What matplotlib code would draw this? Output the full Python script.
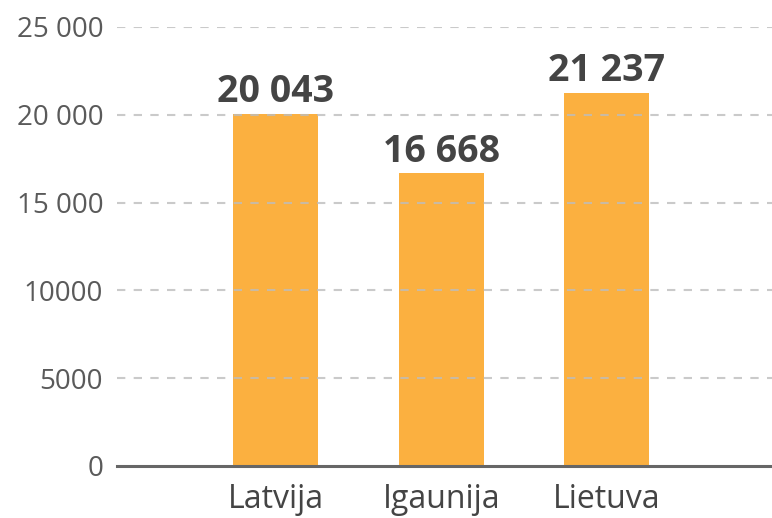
import matplotlib
matplotlib.use("Agg")
import matplotlib.pyplot as plt

categories = ["Latvija", "Igaunija", "Lietuva"]
values = [20043, 16668, 21237]
value_labels = ["20 043", "16 668", "21 237"]
yticks = [0, 5000, 10000, 15000, 20000, 25000]
ytick_labels = ["0", "5000", "10000", "15 000", "20 000", "25 000"]

plt.rcParams['font.family'] = ['Open Sans', 'DejaVu Sans']

fig = plt.figure(figsize=(7.72, 5.18), dpi=100)
ax = fig.add_axes([0.1516, 0.1004, 0.8484, 0.8475])

x = list(range(len(categories)))
ax.bar(x, values, width=0.515, color="#FBB040", zorder=2)
ax.set_xlim(-0.96, 3.0)
ax.set_ylim(0, 25000)

for v in yticks[1:]:
    ax.axhline(v, color="#bdbdbd", linewidth=1.5, linestyle=(0, (4, 4)), alpha=0.8, zorder=3)

for xi, v, lab in zip(x, values, value_labels):
    ax.annotate(lab, (xi, v), xytext=(0, 2), textcoords="offset points",
                ha="center", va="bottom", fontsize=27, fontweight="bold", color="#444444")

ax.set_yticks(yticks)
ax.set_yticklabels(ytick_labels, fontsize=20, color="#5a5a5a")
ax.set_xticks(x)
ax.set_xticklabels(categories, fontsize=23, color="#444444")
ax.tick_params(axis="y", length=0, pad=10)
ax.tick_params(axis="x", length=0, pad=12)

for s in ["top", "right", "left"]:
    ax.spines[s].set_visible(False)
ax.spines["bottom"].set_color("#666666")
ax.spines["bottom"].set_linewidth(2.2)
ax.spines["bottom"].set_zorder(4)

fig.savefig("out.png", dpi=100)
